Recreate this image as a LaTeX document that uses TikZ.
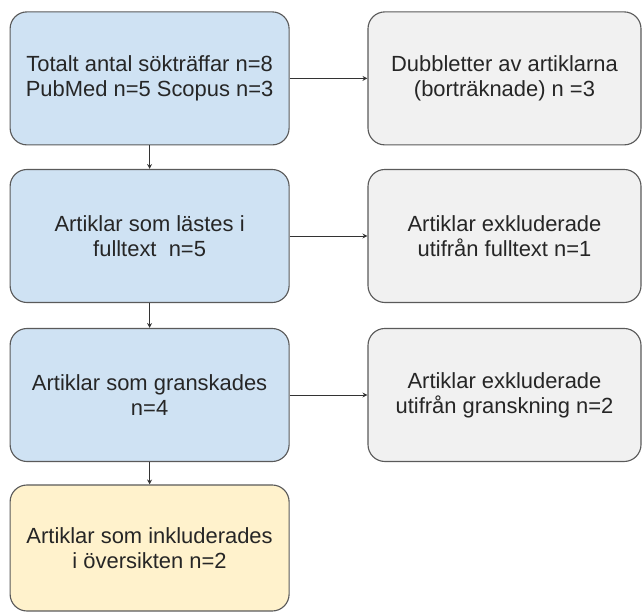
\documentclass[tikz,border=0pt]{standalone}
\usepackage{fontspec}
\setmainfont{Liberation Sans}
\usetikzlibrary{arrows.meta}

\definecolor{boxblue}{HTML}{CFE2F3}
\definecolor{boxgrey}{HTML}{F1F1F1}
\definecolor{boxyellow}{HTML}{FFF2CC}
\definecolor{edgegrey}{HTML}{5A5A5A}

\begin{document}
\begin{tikzpicture}[
    box/.style={draw=edgegrey, line width=0.8pt, rounded corners=12pt, align=center,
                inner sep=0pt, text=black!85, font=\fontsize{15.6}{17.8}\selectfont},
    mainbox/.style={box, fill=boxblue, minimum width=6.975cm, minimum height=3.325cm},
    sidebox/.style={box, fill=boxgrey, minimum width=6.825cm, minimum height=3.325cm},
    link/.style={draw=black!80, line width=0.6pt, -{Stealth[length=3.5pt,width=3.5pt]}}
]
            % Fix the page size
            \useasboundingbox (0,0) rectangle (16.075,15.3);

            % Draw the boxes on the left
            \node[mainbox] (total) at (3.74,13.34) {Totalt antal sökträffar n=8\\PubMed n=5 Scopus n=3};
            \node[mainbox] (fulltext) at (3.74,9.4) {Artiklar som lästes i\\fulltext\ \ n=5};
            \node[mainbox] (review) at (3.74,5.425) {Artiklar som granskades\\n=4};
            \node[mainbox, fill=boxyellow, minimum height=3.15cm] (included) at (3.74,1.6) {Artiklar som inkluderades\\i översikten n=2};

            % Draw the boxes on the right
            \node[sidebox] (dupes) at (12.6125,13.34) {Dubbletter av artiklarna\\(borträknade) n =3};
            \node[sidebox] (exfull) at (12.6125,9.4) {Artiklar exkluderade\\utifrån fulltext n=1};
            \node[sidebox] (exrev) at (12.6125,5.425) {Artiklar exkluderade\\utifrån granskning n=2};

            % Draw the arrows down
            \draw[link] (total) -- (fulltext);
            \draw[link] (fulltext) -- (review);
            \draw[link] (review) -- (included);

            % Draw the arrows to the right
            \draw[link] (total) -- (dupes);
            \draw[link] (fulltext) -- (exfull);
            \draw[link] (review) -- (exrev);
\end{tikzpicture}
\end{document}
